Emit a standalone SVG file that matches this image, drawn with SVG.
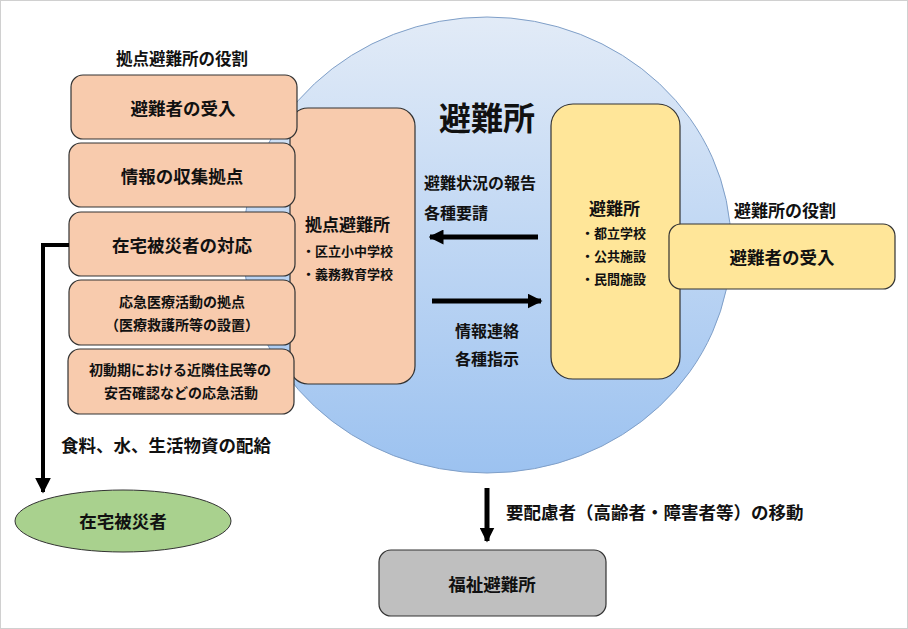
<svg xmlns="http://www.w3.org/2000/svg" width="908" height="629" viewBox="0 0 908 629">
<defs>
<linearGradient id="bg" x1="0" y1="0" x2="0" y2="1">
<stop offset="0" stop-color="#e2ebf7"/>
<stop offset="1" stop-color="#9cc2f0"/>
</linearGradient>
<marker id="ah" viewBox="0 0 10 10" refX="9" refY="5" markerWidth="3" markerHeight="3" orient="auto" markerUnits="strokeWidth">
<path d="M0,0 L10,5 L0,10 z" fill="#000"/>
</marker>
<marker id="ah2" viewBox="0 0 10 10" refX="9" refY="5" markerWidth="4" markerHeight="4" orient="auto" markerUnits="strokeWidth">
<path d="M0,0 L10,5 L0,10 z" fill="#000"/>
</marker>
</defs>
<style>
text{font-family:"Noto Sans CJK JP","Noto Sans CJK SC",sans-serif;font-weight:700;fill:#111;dominant-baseline:central}
.c{text-anchor:middle}
.or{fill:#f8cbad;stroke:#333;stroke-width:1.2}
.ye{fill:#ffe699;stroke:#333;stroke-width:1.2}
.l{font-size:17.5px}
.m{font-size:14px}
.s{font-size:13px}
.conn{stroke:#000;fill:none}
</style>
<rect x="0.5" y="0.5" width="907" height="628" fill="#fff" stroke="#d0d0d0"/>
<g id="circle">
<ellipse cx="487" cy="245" rx="244" ry="228" fill="url(#bg)" stroke="#7f9fc8" stroke-width="1"/>
<text class="c" x="487" y="116" style="font-size:32px">避難所</text>
</g>
<g id="base-shelter">
<rect class="or" x="290" y="108" width="125" height="276" rx="18"/>
<text x="305" y="223" style="font-size:17px">拠点避難所</text>
<text class="s" x="302" y="250">・区立小中学校</text>
<text class="s" x="302" y="273">・義務教育学校</text>
</g>
<text id="base-role-title" class="c" x="182" y="58" style="font-size:16.5px">拠点避難所の役割</text>
<g id="role1"><rect class="or" x="71" y="75" width="226" height="64" rx="12"/><text class="c l" x="183" y="107">避難者の受入</text></g>
<g id="role2"><rect class="or" x="69" y="143" width="226" height="64" rx="12"/><text class="c l" x="182" y="175">情報の収集拠点</text></g>
<g id="role3"><rect class="or" x="69" y="212" width="226" height="64" rx="12"/><text class="c l" x="182" y="244">在宅被災者の対応</text></g>
<g id="role4"><rect class="or" x="69" y="280" width="226" height="65" rx="12"/><text class="c m" x="182" y="301">応急医療活動の拠点</text><text class="c m" x="182" y="324">（医療救護所等の設置）</text></g>
<g id="role5"><rect class="or" x="68" y="349" width="226" height="65" rx="12"/><text class="c m" x="180" y="369">初動期における近隣住民等の</text><text class="c m" x="181" y="392">安否確認などの応急活動</text></g>
<g id="shelter">
<rect class="ye" x="551" y="104" width="129" height="275" rx="22"/>
<text x="589" y="207" style="font-size:17px">避難所</text>
<text class="s" x="581" y="232">・都立学校</text>
<text class="s" x="581" y="255">・公共施設</text>
<text class="s" x="581" y="278">・民間施設</text>
</g>
<text id="shelter-role-title" x="734" y="209" style="font-size:17px">避難所の役割</text>
<g id="shelter-role"><rect class="ye" x="669" y="224" width="226" height="65" rx="12"/><text class="c l" x="782" y="256">避難者の受入</text></g>
<g id="home-victims"><ellipse cx="123" cy="521" rx="108" ry="31" fill="#a9d18e" stroke="#333" stroke-width="1"/><text class="c l" x="123" y="520">在宅被災者</text></g>
<g id="welfare"><rect x="379" y="550" width="227" height="66" rx="12" fill="#bfbfbf" stroke="#333" stroke-width="1.2"/><text class="c l" x="492" y="583">福祉避難所</text></g>
<g id="connectors">
<path class="conn" stroke-width="5" d="M538,237 H430" marker-end="url(#ah)"/>
<path class="conn" stroke-width="5" d="M432,301 H541" marker-end="url(#ah)"/>
<path class="conn" stroke-width="4" d="M69,245 H43 V492" marker-end="url(#ah2)"/>
<path class="conn" stroke-width="5" d="M487,488 V541" marker-end="url(#ah)"/>
<text x="424" y="182" style="font-size:16px">避難状況の報告</text>
<text x="424" y="212" style="font-size:16px">各種要請</text>
<text class="c" x="487" y="330" style="font-size:16px">情報連絡</text>
<text class="c" x="487" y="358" style="font-size:16px">各種指示</text>
<text x="61" y="444" class="l">食料、水、生活物資の配給</text>
<text x="506" y="511" class="l">要配慮者（高齢者・障害者等）の移動</text>
</g>
</svg>
